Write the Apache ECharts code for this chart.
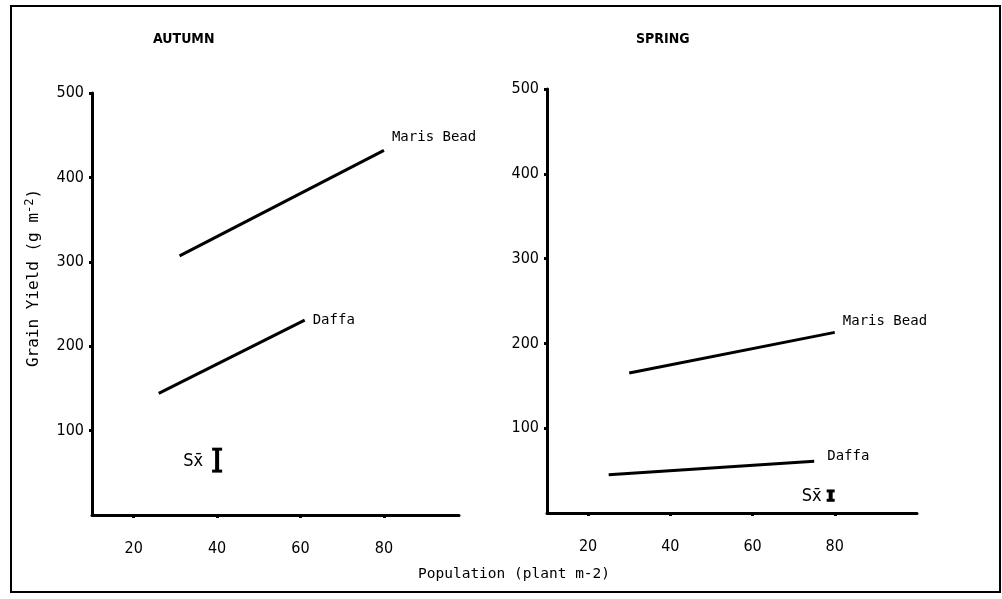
<!DOCTYPE html>
<html>
<head>
<meta charset="utf-8">
<script src="https://cdn.jsdelivr.net/npm/echarts@6/dist/echarts.min.js"></script>
<style>
  html, body { margin: 0; padding: 0; background: #fff; }
  #chart { width: 1002px; height: 599px; }
</style>
</head>
<body>
<div id="chart"></div>
<script>
// values
const xTicks = [20, 40, 60, 80];
const yTicks = [100, 200, 300, 400, 500];

const autumnMaris = [[31, 307], [80, 432]];
const autumnDaffa = [[26, 144], [61, 231]];
const springMaris = [[30, 165], [80, 213]];
const springDaffa = [[25, 45], [75, 61]];

// [x, low, high]
const autumnSx = [[40, 52, 78]];
const springSx = [[79, 15, 26]];

const narrow = "'Liberation Sans Narrow', 'DejaVu Sans Condensed', 'Liberation Sans', sans-serif";
const mono = "'DejaVu Sans Mono', 'Liberation Mono', monospace";

const chart = echarts.init(document.getElementById('chart'));

function xAxis(gridIndex, max) {
   return {
      gridIndex: gridIndex,
      type: 'value',
      min: 10,
      max: max,
      splitLine: { show: false },
      axisLine: { lineStyle: { color: '#000', width: 3 } },
      axisTick: { customValues: xTicks, length: 3, lineStyle: { color: '#000', width: 3 } },
      axisLabel: {
         customValues: xTicks,
         color: '#000',
         fontFamily: narrow,
         fontSize: 16,
         margin: 26
      }
   };
}

function yAxis(gridIndex) {
   return {
      gridIndex: gridIndex,
      type: 'value',
      min: 0,
      max: 500,
      splitLine: { show: false },
      axisLine: { show: true, lineStyle: { color: '#000', width: 3 } },
      axisTick: { customValues: yTicks, length: 3, lineStyle: { color: '#000', width: 3 } },
      axisLabel: {
         customValues: yTicks,
         color: '#000',
         fontFamily: narrow,
         fontSize: 16,
         margin: 8
      }
   };
}

function lineSeries(idx, data, name, offset) {
   return {
      type: 'line',
      name: name,
      xAxisIndex: idx,
      yAxisIndex: idx,
      data: data,
      symbol: 'none',
      lineStyle: { color: '#000', width: 3 },
      endLabel: {
         show: true,
         formatter: name,
         color: '#000',
         fontFamily: mono,
         fontSize: 14,
         offset: offset
      },
      silent: true
   };
}

function sxSeries(idx, data, cap, gap) {
   return {
      type: 'custom',
      xAxisIndex: idx,
      yAxisIndex: idx,
      data: data,
      silent: true,
      renderItem: function (params, api) {
         const lo = api.coord([api.value(0), api.value(1)]);
         const hi = api.coord([api.value(0), api.value(2)]);
         const style = { stroke: '#000', lineWidth: 3 };
         return {
            type: 'group',
            children: [
               { type: 'line', shape: { x1: lo[0], y1: lo[1], x2: hi[0], y2: hi[1] }, style: { stroke: '#000', lineWidth: 4 } },
               { type: 'line', shape: { x1: lo[0] - cap, y1: lo[1], x2: lo[0] + cap, y2: lo[1] }, style: style },
               { type: 'line', shape: { x1: hi[0] - cap, y1: hi[1], x2: hi[0] + cap, y2: hi[1] }, style: style },
               {
                  type: 'text',
                  style: {
                     text: 'Sx\u0304',
                     x: lo[0] - gap,
                     y: (lo[1] + hi[1]) / 2 + 1,
                     align: 'right',
                     verticalAlign: 'middle',
                     fill: '#000',
                     font: '18px ' + narrow
                  }
               }
            ]
         };
      }
   };
}

chart.setOption({
   animation: false,
   backgroundColor: '#fff',
   title: [
      { text: 'AUTUMN', left: 148, top: 27, textStyle: { fontFamily: narrow, fontWeight: 'bold', fontSize: 14, color: '#000' } },
      { text: 'SPRING', left: 631, top: 27, textStyle: { fontFamily: narrow, fontWeight: 'bold', fontSize: 14, color: '#000' } }
   ],
   grid: [
      { left: 92, top: 93, width: 367, height: 422 },
      { left: 547, top: 89, width: 370, height: 424 }
   ],
   xAxis: [xAxis(0, 98), xAxis(1, 100)],
   yAxis: [yAxis(0), yAxis(1)],
   graphic: [
      {
         type: 'rect',
         shape: { x: 11, y: 6, width: 989, height: 586 },
         style: { fill: 'none', stroke: '#000', lineWidth: 2 },
         silent: true
      },
      {
         type: 'text',
         x: 34,
         y: 278,
         rotation: Math.PI / 2,
         style: {
            text: 'Grain Yield (g m{sup|-2})',
            fill: '#000',
            font: '16px ' + mono,
            align: 'center',
            verticalAlign: 'middle',
            rich: { sup: { fontFamily: mono, fontSize: 12, verticalAlign: 'top', padding: [0, 0, 9, 0] } }
         }
      },
      {
         type: 'text',
         left: 418,
         top: 567,
         style: { text: 'Population (plant m-2)', fill: '#000', font: '14.5px ' + mono }
      }
   ],
   series: [
      lineSeries(0, autumnMaris, 'Maris Bead', [0, -13]),
      lineSeries(0, autumnDaffa, 'Daffa', [0, 0]),
      lineSeries(1, springMaris, 'Maris Bead', [0, -11]),
      lineSeries(1, springDaffa, 'Daffa', [5, -5]),
      sxSeries(0, autumnSx, 5, 14),
      sxSeries(1, springSx, 4, 9)
   ]
});
</script>
</body>
</html>
